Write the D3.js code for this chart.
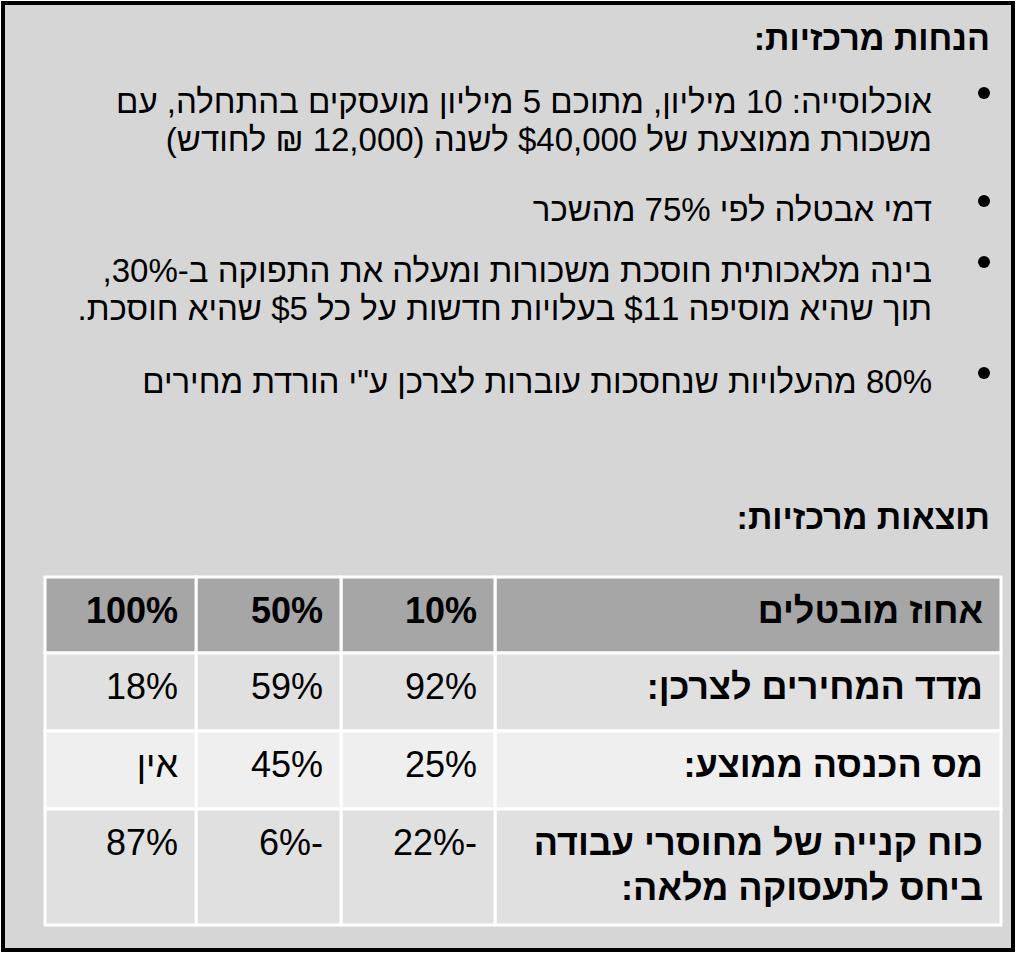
<!DOCTYPE html>
<html><head><meta charset="utf-8">
<script src="https://cdn.jsdelivr.net/npm/d3@7"></script>
<style>body{margin:0;background:#fff}text{font-family:"Liberation Sans",Arial,sans-serif}</style>
</head><body><svg id="c" width="1024" height="954"></svg>
<script>
const heading1 = "הנחות מרכזיות:";
const heading2 = "תוצאות מרכזיות:";
const bullets = [
  ["אוכלוסייה: 10 מיליון, מתוכם 5 מיליון מועסקים בהתחלה, עם", "משכורת ממוצעת של $40,000 לשנה (12,000 ₪ לחודש)"],
  ["דמי אבטלה לפי 75% מהשכר"],
  ["בינה מלאכותית חוסכת משכורות ומעלה את התפוקה ב-30%,", "תוך שהיא מוסיפה $11 בעלויות חדשות על כל $5 שהיא חוסכת."],
  ["80% מהעלויות שנחסכות עוברות לצרכן ע\"י הורדת מחירים"]
];
const bulletY = [113, 221, 282, 393];
const columns = ["אחוז מובטלים", "10%", "50%", "100%"];
const rowLabels = [["מדד המחירים לצרכן:"], ["מס הכנסה ממוצע:"], ["כוח קנייה של מחוסרי עבודה", "ביחס לתעסוקה מלאה:"]];
const rowValues = [["92%", "59%", "18%"], ["25%", "45%", "אין"], ["-22%", "-6%", "87%"]];

const svg = d3.select("#c");
svg.append("rect").attr("x", 3).attr("y", 3).attr("width", 1010).attr("height", 947)
  .attr("fill", "#d6d6d6").attr("stroke", "#000").attr("stroke-width", 4);

const rtl = sel => sel.attr("direction", "rtl").attr("text-anchor", "start");

svg.append("text").call(rtl).attr("x", 990).attr("y", 50).attr("font-size", 34)
  .attr("font-weight", "bold").text(heading1);
svg.append("text").call(rtl).attr("x", 990).attr("y", 529).attr("font-size", 34)
  .attr("font-weight", "bold").text(heading2);

bullets.forEach((lines, i) => {
  svg.append("circle").attr("cx", 984).attr("cy", bulletY[i] - 20).attr("r", 6).attr("fill", "#000");
  lines.forEach((l, j) => svg.append("text").call(rtl).attr("x", 932).attr("y", bulletY[i] + j * 38)
    .attr("font-size", 33).text(l));
});

// table
const colEdges = [1001, 495, 341, 196, 45];
const rowEdges = [577, 653, 731, 809, 925];
const fills = ["#a6a6a6", "#e0e0e0", "#efefef", "#e0e0e0"];
const y = d3.scaleOrdinal().domain(d3.range(4)).range(rowEdges.slice(0, 4));
for (let r = 0; r < 4; r++) {
  for (let c = 0; c < 4; c++) {
    const x0 = colEdges[c + 1], x1 = colEdges[c];
    svg.append("rect").attr("x", x0).attr("y", y(r)).attr("width", x1 - x0)
      .attr("height", rowEdges[r + 1] - rowEdges[r]).attr("fill", fills[r])
      .attr("stroke", "#fff").attr("stroke-width", 3);
    const lines = r === 0 ? [columns[c]] : (c === 0 ? rowLabels[r - 1] : [rowValues[r - 1][c - 1]]);
    const bold = r === 0 || c === 0;
    lines.forEach((l, j) => svg.append("text").call(rtl).attr("x", x1 - 18)
      .attr("y", y(r) + 46 + j * 45).attr("font-size", 36)
      .attr("font-weight", bold ? "bold" : "normal").text(l));
  }
}
</script></body></html>
